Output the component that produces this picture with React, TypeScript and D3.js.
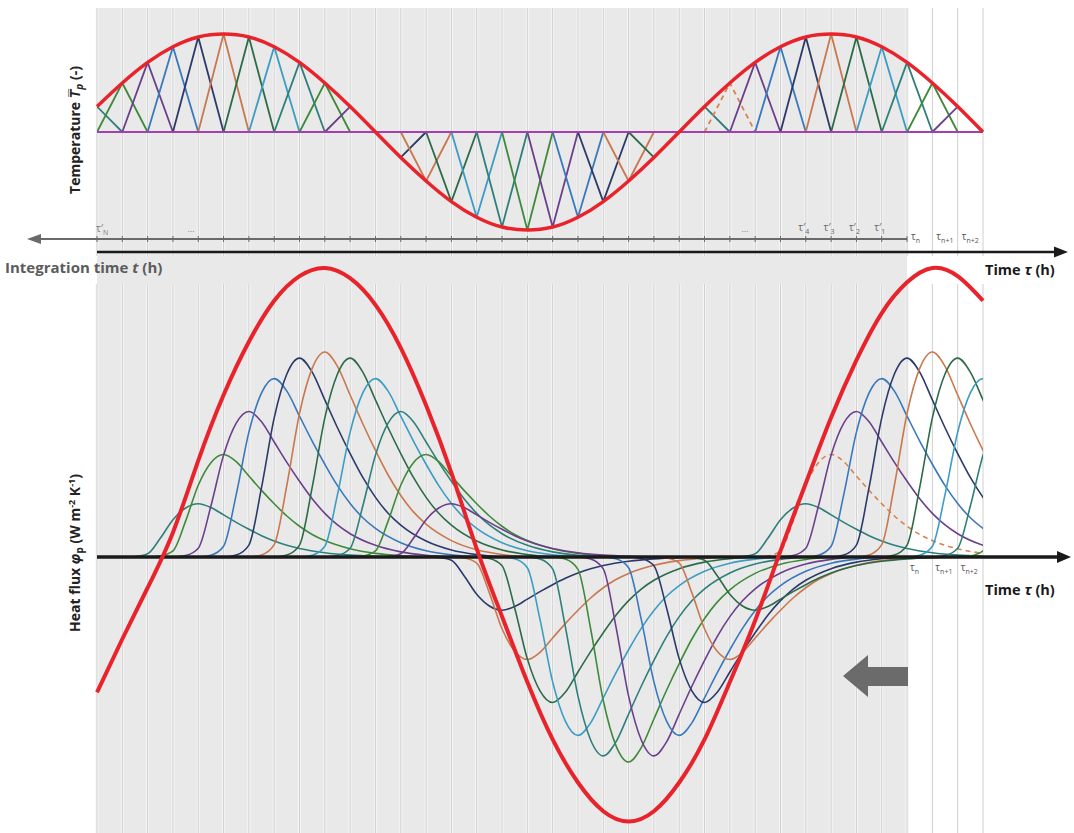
import React from 'react';
import * as d3 from 'd3';

const W = 1074;
const H = 833;

// Dimensionless temperature pulse height at each time step (triangular pulses)
const temperature = [
  0.26, 0.5, 0.71, 0.87, 0.97, 1, 0.97, 0.87, 0.71, 0.5, 0.26, 0,
  -0.26, -0.5, -0.71, -0.87, -0.97, -1, -0.97, -0.87, -0.71, -0.5, -0.26, 0,
  0.26, 0.5, 0.71, 0.87, 0.97, 1, 0.97, 0.87, 0.71, 0.5, 0.26, 0,
];

// Total heat flux at each time step (same units as the response factor peak)
const heatFlux = [
  -0.66, -0.4, -0.15, 0.12, 0.47, 0.79, 1.05, 1.25, 1.37, 1.41, 1.36, 1.23,
  1.02, 0.74, 0.41, 0.04, -0.29, -0.61, -0.89, -1.1, -1.24, -1.29, -1.24, -1.1,
  -0.89, -0.61, -0.31, 0.03, 0.36, 0.68, 0.96, 1.19, 1.34, 1.41, 1.37, 1.25,
];

// Response factor of a unit triangular pulse, by lag (in time steps)
const responseLag = [0, 1, 1.5, 2, 2.5, 3, 3.5, 4, 4.5, 5, 5.5, 6, 6.5, 7, 7.5, 8, 9, 10, 11, 12];
const responseFactor = [0, 0, 0.01, 0.06, 0.35, 0.7, 0.92, 1, 0.93, 0.79, 0.65, 0.52, 0.4, 0.3, 0.22, 0.16, 0.08, 0.035, 0.012, 0];

const pulseColors = ['#2e7f7a', '#3f8a3a', '#6c3f8c', '#3a78bd', '#2b3a6a', '#c9784f', '#2c6b48', '#3c9cc4'];
const highlightedPulse = 25;
const pastStep = 32; // current time tau_n
const pastLabels = ['4', '3', '2', '1'];
const futureLabels = ['n', 'n+1', 'n+2'];

const x = d3.scaleLinear().domain([0, temperature.length - 1]).range([97, 983]);
const yT = d3.scaleLinear().domain([-1, 1]).range([230, 34]);
const yQ = d3.scaleLinear().domain([-1, 1]).range([762, 352]);

const redTop = d3.line<number>().x((_, i) => x(i)).y((d) => yT(d)).curve(d3.curveNatural);
const redBottom = d3.line<number>().x((_, i) => x(i)).y((d) => yQ(d)).curve(d3.curveNatural);
const poly = d3.line<[number, number]>().x((d) => x(d[0])).y((d) => yT(d[1]));
const bell = d3.line<[number, number]>().x((d) => x(d[0])).y((d) => yQ(d[1])).curve(d3.curveMonotoneX);

const font = '"Open Sans", "Liberation Sans", Arial, sans-serif';

function Tau({ xPos, y, prime, sub, fill = '#555', anchor = 'start' }: any) {
  return (
    <text x={xPos} y={y} fontFamily={font} fontSize={10} fill={fill} textAnchor={anchor}>
      <tspan>{prime ? 'τ′' : 'τ'}</tspan>
      <tspan dy={3} fontSize={7}>{sub}</tspan>
    </text>
  );
}

export default function App() {
  const grid = temperature.map((_, i) => x(i));
  const gapTop = 256;
  const gapBottom = 284;

  return (
    <svg width={W} height={H} style={{ position: 'absolute', left: 0, top: 0, display: 'block', background: '#fff' }}>
      <defs>
        <clipPath id="plotClip">
          <rect x={x(0)} y={0} width={x(temperature.length - 1) - x(0)} height={H} />
        </clipPath>
      </defs>

      {/* past-time shading */}
      <rect x={x(0)} y={8} width={x(pastStep) - x(0)} height={H - 8} fill="#e9e9e9" />

      {/* time-step grid */}
      {grid.map((gx, i) => (
        <g key={'g' + i}>
          {[[8, gapTop], [gapBottom, H]].map(([a, b], j) => (
            <g key={j}>
              {i <= pastStep && <line x1={gx} x2={gx} y1={a} y2={b} stroke="#f6f6f6" strokeWidth={3} />}
              <line x1={gx} x2={gx} y1={a} y2={b} stroke="#cfcfcf" strokeWidth={1} />
            </g>
          ))}
        </g>
      ))}

      {/* triangular temperature pulses */}
      <g clipPath="url(#plotClip)">
        {temperature.map((t, i) =>
          t === 0 ? null : (
            <path
              key={'tri' + i}
              d={poly([[i - 1, 0], [i, t], [i + 1, 0]]) || ''}
              fill="none"
              stroke={i === highlightedPulse ? '#d9824f' : pulseColors[i % pulseColors.length]}
              strokeWidth={1.8}
              strokeDasharray={i === highlightedPulse ? '5,4' : undefined}
              strokeLinejoin="round"
            />
          )
        )}
      </g>
      <line x1={x(0)} x2={x(temperature.length - 1)} y1={yT(0)} y2={yT(0)} stroke="#a43fb0" strokeWidth={2} />
      <path d={redTop(temperature) || ''} fill="none" stroke="#e8232b" strokeWidth={3.5} />

      {/* integration-time axis (pointing back in time) */}
      <line x1={38} x2={x(pastStep)} y1={239} y2={239} stroke="#6a6a6a" strokeWidth={2} />
      <path d="M27,239 L41,234 L41,244 Z" fill="#6a6a6a" />
      {grid.slice(0, pastStep + 1).map((gx, i) => (
        <line key={'tk' + i} x1={gx} x2={gx} y1={236} y2={242} stroke="#6a6a6a" strokeWidth={1} />
      ))}
      {/* time axis */}
      <line x1={x(0)} x2={1056} y1={252} y2={252} stroke="#1a1a1a" strokeWidth={2.5} />
      <path d="M1068,252 L1054,246.5 L1054,257.5 Z" fill="#1a1a1a" />

      <Tau xPos={x(0) - 1} y={232} prime sub="N" fill="#777" />
      <text x={191} y={232} fontFamily={font} fontSize={9} fill="#888" textAnchor="middle">…</text>
      <text x={745} y={232} fontFamily={font} fontSize={9} fill="#888" textAnchor="middle">…</text>
      {pastLabels.map((s, i) => (
        <Tau key={'pl' + s} xPos={x(28 + i) - 2} y={231} prime sub={s} fill="#666" anchor="middle" />
      ))}
      {futureLabels.map((s, i) => (
        <Tau key={'fl' + s} xPos={x(pastStep + i) + 4} y={240} sub={s} fill="#555" />
      ))}

      <text x={5} y={273} fontFamily={font} fontSize={15} fontWeight={700} fill="#5c5c5c">
        Integration time <tspan fontStyle="italic">t</tspan> (h)
      </text>
      <text x={985} y={275} fontFamily={font} fontSize={14.5} fontWeight={700} fill="#1a1a1a">
        Time <tspan fontStyle="italic">τ</tspan> (h)
      </text>

      {/* heat-flux responses to each pulse */}
      <g clipPath="url(#plotClip)">
        {temperature.map((t, i) => {
          if (t === 0) return null;
          const pts = responseLag.map((lag, j) => [i + lag, t * responseFactor[j]] as [number, number]);
          return (
            <path
              key={'bell' + i}
              d={bell(pts) || ''}
              fill="none"
              stroke={i === highlightedPulse ? '#d9824f' : pulseColors[i % pulseColors.length]}
              strokeWidth={1.6}
              strokeDasharray={i === highlightedPulse ? '5,4' : undefined}
            />
          );
        })}
      </g>

      <line x1={x(0)} x2={1058} y1={yQ(0)} y2={yQ(0)} stroke="#1a1a1a" strokeWidth={3.5} />
      <path d={`M1071,${yQ(0)} L1057,${yQ(0) - 6} L1057,${yQ(0) + 6} Z`} fill="#1a1a1a" />
      <path d={redBottom(heatFlux) || ''} fill="none" stroke="#e8232b" strokeWidth={4} />

      {futureLabels.map((s, i) => (
        <Tau key={'bl' + s} xPos={x(pastStep + i) + 3} y={571} sub={s} fill="#555" />
      ))}
      <text x={985} y={595} fontFamily={font} fontSize={14.5} fontWeight={700} fill="#1a1a1a">
        Time <tspan fontStyle="italic">τ</tspan> (h)
      </text>

      {/* direction of integration */}
      <path d="M843,676 L868,655 L868,667 L908,667 L908,686 L868,686 L868,697 Z" fill="#6b6b6b" />

      {/* axis titles */}
      <text transform="translate(80,130) rotate(-90)" fontFamily={font} fontSize={14} fontWeight={700} fill="#222" textAnchor="middle">
        Temperature <tspan fontStyle="italic">T̅</tspan><tspan dy={3} fontSize={10} fontStyle="italic">p</tspan><tspan dy={-3}> (-)</tspan>
      </text>
      <text transform="translate(80,553) rotate(-90)" fontFamily={font} fontSize={14} fontWeight={700} fill="#222" textAnchor="middle">
        Heat flux <tspan fontStyle="italic">φ</tspan><tspan dy={3} fontSize={10}>p</tspan><tspan dy={-3}> (W m</tspan><tspan dy={-5} fontSize={9}>-2</tspan><tspan dy={5}> K</tspan><tspan dy={-5} fontSize={9}>-1</tspan><tspan dy={5}>)</tspan>
      </text>
    </svg>
  );
}
